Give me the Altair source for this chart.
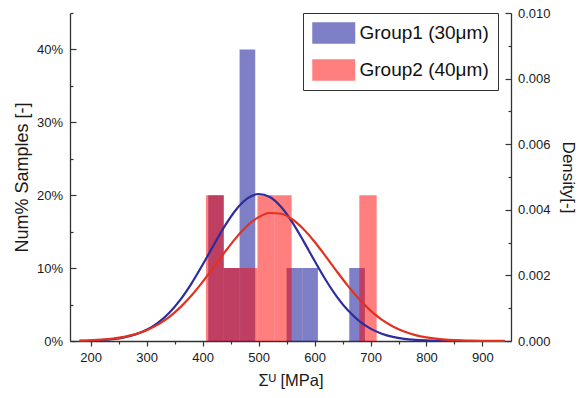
import altair as alt
import pandas as pd

# ---------------- data ----------------
g1_label = "Group1 (30μm)"
g2_label = "Group2 (40μm)"

# histogram bins [MPa] and share of samples [%]
g1_bin_start = [410, 438, 466, 550, 578, 662]
g1_bin_end = [438, 466, 494, 578, 606, 690]
g1_pct = [20, 10, 40, 10, 10, 10]

g2_bin_start = [406, 437, 467, 498, 528, 680]
g2_bin_end = [437, 467, 498, 528, 559, 711]
g2_pct = [20, 10, 10, 20, 20, 20]

# fitted density curves
curve_x = [180, 200, 220, 240, 260, 280, 300, 320, 340, 360,
           380, 400, 420, 440, 460, 480, 500, 520, 540, 560,
           580, 600, 620, 640, 660, 680, 700, 720, 740, 760,
           780, 800, 820, 840, 860, 880, 900, 920, 940]
g1_density = [0.0000064, 0.0000142, 0.0000296, 0.0000588, 0.000111, 0.000200, 0.000341, 0.000554, 0.000855, 0.001255,
              0.001752, 0.002324, 0.002932, 0.003517, 0.004010, 0.004347, 0.004481, 0.004391, 0.004092, 0.003625,
              0.003053, 0.002445, 0.001861, 0.001347, 0.000927, 0.000607, 0.000377, 0.000223, 0.000126, 0.000067,
              0.000034, 0.0000165, 0.0000076, 0.0000033, 0.0000014, 0.0000005, 0.0000002, 0.0000001, 0.0]
g2_density = [0.0000120, 0.0000229, 0.0000422, 0.0000747, 0.000127, 0.000208, 0.000329, 0.000499, 0.000728, 0.001024,
              0.001385, 0.001802, 0.002256, 0.002719, 0.003152, 0.003517, 0.003776, 0.003902, 0.003879, 0.003712,
              0.003417, 0.003028, 0.002581, 0.002117, 0.001672, 0.001270, 0.000928, 0.000653, 0.000442, 0.000288,
              0.000181, 0.000109, 0.0000632, 0.0000353, 0.0000190, 0.0000098, 0.0000049, 0.0000023, 0.0000011]

# axis ticks
x_ticks = [200, 300, 400, 500, 600, 700, 800, 900]
x_minor = [250, 350, 450, 550, 650, 750, 850]
pct_ticks = [0, 10, 20, 30, 40]
pct_minor = [5, 15, 25, 35, 45]
dens_ticks = [0.0, 0.002, 0.004, 0.006, 0.008, 0.010]
dens_minor = [0.001, 0.003, 0.005, 0.007, 0.009]

# ---------------- tables ----------------
bars_df = pd.DataFrame({
    "group": [g1_label] * len(g1_pct) + [g2_label] * len(g2_pct),
    "start": g1_bin_start + g2_bin_start,
    "end": g1_bin_end + g2_bin_end,
    "pct": g1_pct + g2_pct,
})
curves_df = pd.DataFrame({
    "group": [g1_label] * len(curve_x) + [g2_label] * len(curve_x),
    "x": curve_x + curve_x,
    "density": g1_density + g2_density,
})

W, H = 441, 328
AX = "#333333"
TXT = "#1a1a1a"
FONT = "Liberation Sans"

x_scale = alt.Scale(domain=[163, 951], nice=False, zero=False)
pct_scale = alt.Scale(domain=[0, 45], nice=False)
dens_scale = alt.Scale(domain=[0, 0.010], nice=False)
groups = [g1_label, g2_label]

x_major_axis = alt.Axis(orient="bottom", values=x_ticks, format="d", tickSize=5, tickWidth=1.2,
                        tickColor=AX, labelPadding=5, labelFontSize=13, labelColor=TXT,
                        title="Σᵁ [MPa]", titleFontSize=16.5, titlePadding=8, titleColor=TXT,
                        domainColor=AX, domainWidth=1.3, grid=False, labelFlush=False)
x_minor_axis = alt.Axis(orient="bottom", values=x_minor, tickSize=3, tickWidth=1.2, tickColor=AX,
                        labels=False, domain=False, title=None, grid=False)

pct_label_axis = alt.Axis(orient="left", values=pct_ticks, ticks=False, tickSize=0,
                          labelExpr="datum.value + '%'", labelPadding=7.5, labelFontSize=13,
                          labelColor=TXT, title="Num% Samples [-]", titleFontSize=18,
                          titlePadding=5, titleColor=TXT, domainColor=AX, domainWidth=1.3,
                          grid=False)
pct_in_major = alt.Axis(orient="right", offset=-W, values=pct_ticks, tickSize=6, tickWidth=1.2,
                        tickColor=AX, labels=False, domain=False, title=None, grid=False)
pct_in_minor = alt.Axis(orient="right", offset=-W, values=pct_minor, tickSize=3, tickWidth=1.2,
                        tickColor=AX, labels=False, domain=False, title=None, grid=False)

dens_label_axis = alt.Axis(orient="right", values=dens_ticks, ticks=False, tickSize=0, format=".3f",
                           labelPadding=6.5, labelFontSize=13, labelColor=TXT,
                           title="Density[-]", titleFontSize=17, titlePadding=8, titleColor=TXT,
                           domainColor=AX, domainWidth=1.3, grid=False)
dens_in_major = alt.Axis(orient="left", offset=-W, values=dens_ticks, tickSize=6, tickWidth=1.2,
                         tickColor=AX, labels=False, domain=False, title=None, grid=False)
dens_in_minor = alt.Axis(orient="left", offset=-W, values=dens_minor, tickSize=3, tickWidth=1.2,
                         tickColor=AX, labels=False, domain=False, title=None, grid=False)

legend = alt.Legend(orient="none", legendX=233, legendY=0, title=None, direction="vertical",
                    symbolType="M-1,-1H3V1H-1Z", symbolSize=462, symbolStrokeWidth=0,
                    symbolOpacity=0.5, labelFontSize=19, labelFont=FONT, labelColor="#111111",
                    labelOffset=25.5, rowPadding=15, padding=9, strokeColor=AX, fillColor="white")

bars = alt.Chart(bars_df).mark_bar(opacity=0.5).encode(
    x=alt.X("start:Q", scale=x_scale, axis=x_major_axis),
    x2="end:Q",
    y=alt.Y("pct:Q", scale=pct_scale, axis=pct_label_axis),
    y2=alt.datum(0),
    color=alt.Color("group:N", scale=alt.Scale(domain=groups, range=["#000090", "#ff0000"]),
                    legend=legend),
)

pct_major_layer = alt.Chart(bars_df).mark_point(opacity=0).encode(
    x=alt.X("start:Q", scale=x_scale, axis=x_minor_axis),
    y=alt.Y("pct:Q", scale=pct_scale, axis=pct_in_major),
)
pct_minor_layer = alt.Chart(bars_df).mark_point(opacity=0).encode(
    x=alt.X("start:Q", scale=x_scale, axis=None),
    y=alt.Y("pct:Q", scale=pct_scale, axis=pct_in_minor),
)

lines = alt.Chart(curves_df).mark_line(strokeWidth=2.2, interpolate="monotone").encode(
    x=alt.X("x:Q", scale=x_scale, axis=None),
    y=alt.Y("density:Q", scale=dens_scale, axis=dens_label_axis),
    color=alt.Color("group:N", scale=alt.Scale(domain=groups, range=["#2d2d9b", "#e2321f"]),
                    legend=None),
)
dens_major_layer = alt.Chart(curves_df).mark_point(opacity=0).encode(
    x=alt.X("x:Q", scale=x_scale, axis=None),
    y=alt.Y("density:Q", scale=dens_scale, axis=dens_in_major),
)
dens_minor_layer = alt.Chart(curves_df).mark_point(opacity=0).encode(
    x=alt.X("x:Q", scale=x_scale, axis=None),
    y=alt.Y("density:Q", scale=dens_scale, axis=dens_in_minor),
)

chart = alt.layer(
    bars, pct_major_layer, pct_minor_layer, lines, dens_major_layer, dens_minor_layer
).resolve_scale(
    y="independent", color="independent"
).resolve_axis(
    y="independent", x="independent"
).properties(
    width=W, height=H,
    autosize=alt.AutoSizeParams(type="none"),
    padding={"left": 70, "top": 13, "right": 578 - 70 - W, "bottom": 398 - 13 - H},
).configure(
    font=FONT,
).configure_view(
    stroke=None,
).configure_axis(
    titleFontWeight="normal",
)

chart.save("out.html", embed_options={"renderer": "svg", "actions": False})
